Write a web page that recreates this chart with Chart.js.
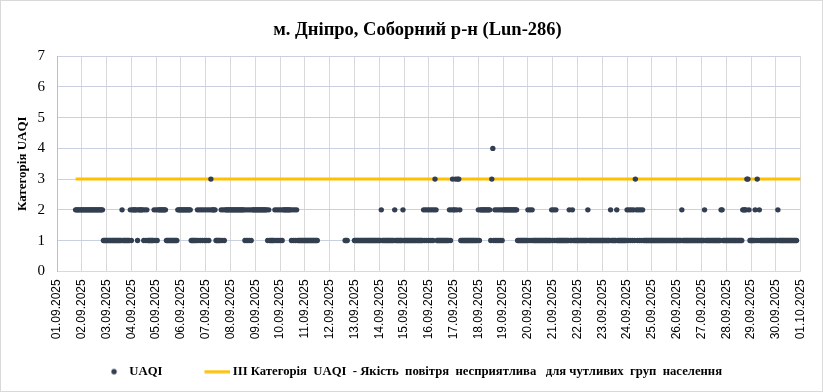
<!DOCTYPE html>
<html>
<head>
<meta charset="utf-8">
<script src="https://cdn.jsdelivr.net/npm/chart.js@4.4.1/dist/chart.umd.min.js"></script>
<style>
  html, body { margin: 0; padding: 0; background: #fff; }
  #wrap { width: 823px; height: 392px; }
</style>
</head>
<body>
<div id="wrap"><canvas id="uaqiChart" width="823" height="392"></canvas></div>
<script>
// Погодинні значення UAQI, один рядок на добу (24 символи, '.' = немає даних)
const days = ['01.09', '02.09', '03.09', '04.09', '05.09', '06.09', '07.09', '08.09', '09.09', '10.09',
              '11.09', '12.09', '13.09', '14.09', '15.09', '16.09', '17.09', '18.09', '19.09', '20.09',
              '21.09', '22.09', '23.09', '24.09', '25.09', '26.09', '27.09', '28.09', '29.09', '30.09'];
const hourlyUAQI = [
  '..................222222',
  '222222222222222222222111',
  '111111111111111211111112',
  '122222122222121211111121',
  '212222222211111111111222',
  '222222222211111121212121',
  '212123222211111212122222',
  '222222222222221212121222',
  '222222222222121111121212',
  '121222222221212121111111',
  '1111111111111...........',
  '...............111......',
  '111111111111111111111111',
  '112111111111111211111112',
  '111111111111111111121212',
  '121212321111111111112123',
  '223233211111111111111111',
  '212222222222134121212121',
  '222222222222221111111111',
  '212121111111111111111112',
  '121211111111111121121111',
  '111111111121111111111111',
  '111111112111112111111111',
  '212121213212121211111111',
  '111111111111111111111111',
  '111112111111111111111111',
  '111211111111111111122111',
  '111111111111111122223321',
  '111121312111111111111111',
  '112111111111111111111..'
];
const tickLabels = ['01.09.2025', '02.09.2025', '03.09.2025', '04.09.2025', '05.09.2025', '06.09.2025',
                    '07.09.2025', '08.09.2025', '09.09.2025', '10.09.2025', '11.09.2025', '12.09.2025',
                    '13.09.2025', '14.09.2025', '15.09.2025', '16.09.2025', '17.09.2025', '18.09.2025',
                    '19.09.2025', '20.09.2025', '21.09.2025', '22.09.2025', '23.09.2025', '24.09.2025',
                    '25.09.2025', '26.09.2025', '27.09.2025', '28.09.2025', '29.09.2025', '30.09.2025',
                    '01.10.2025'];
const yTickLabels = ['0', '1', '2', '3', '4', '5', '6', '7'];
const thresholdValue = 3;
const thresholdLabel = 'ІІІ Категорія  UAQI  - Якість  повітря  несприятлива   для чутливих  груп  населення';

// точки: x = номер доби + година/24
const points = [];
hourlyUAQI.forEach((dayStr, d) => {
    for (let h = 0; h < dayStr.length; h++) {
        const c = dayStr[h];
        if (c !== '.') points.push({ x: d + h / 24, y: Number(c) });
    }
});
const thresholdLine = [
    { x: points[0].x, y: thresholdValue },
    { x: tickLabels.length - 1, y: thresholdValue }
];

// маркери легенди (малюються по центру комірки шириною 56)
function makeDot() {
    const c = document.createElement('canvas');
    c.width = 64; c.height = 8;
    const g = c.getContext('2d');
    g.fillStyle = '#333f50';
    g.beginPath(); g.arc(51, 4, 2.7, 0, Math.PI * 2); g.fill();
    return c;
}
function makeLine() {
    const c = document.createElement('canvas');
    c.width = 64; c.height = 4;
    const g = c.getContext('2d');
    g.fillStyle = '#ffc000';
    g.fillRect(38, 0.5, 26, 3);
    return c;
}
const dotMarker = makeDot();
const lineMarker = makeLine();

const frame = {
    id: 'frame',
    afterLayout(chart) {
        // легенда трохи ліворуч, заголовок трохи праворуч, як в оригіналі
        if (chart.legend) {
            chart.legend.left -= 11;
            chart.legend.right -= 11;
        }
        if (chart.titleBlock) {
            chart.titleBlock.left += 12;
            chart.titleBlock.right += 12;
        }
    },
    beforeDraw(chart) {
        const c = chart.ctx;
        c.save();
        c.fillStyle = '#fff';
        c.fillRect(0, 0, chart.width, chart.height);
        c.restore();
    },
    afterDraw(chart) {
        const c = chart.ctx;
        c.save();
        c.strokeStyle = '#d9d9d9';
        c.lineWidth = 1;
        c.strokeRect(0.5, 0.5, chart.width - 1, chart.height - 1);
        c.restore();
    }
};

const ctx = document.getElementById('uaqiChart').getContext('2d');
new Chart(ctx, {
    type: 'scatter',
    data: {
        datasets: [{
            label: 'UAQI',
            data: points,
            backgroundColor: '#333f50',
            borderWidth: 0,
            pointRadius: 2.7,
            pointHoverRadius: 2.7,
            order: 1
        }, {
            label: thresholdLabel,
            data: thresholdLine,
            showLine: true,
            borderColor: '#ffc000',
            borderWidth: 3,
            pointRadius: 0,
            order: 2
        }]
    },
    options: {
        responsive: false,
        animation: false,
        layout: { padding: { left: 4, right: 16, top: 0, bottom: 4 } },
        plugins: {
            title: {
                display: true,
                text: 'м. Дніпро, Соборний р-н (Lun-286)',
                color: '#000',
                font: { family: 'Liberation Serif', size: 18.5, weight: 'bold' },
                padding: { top: 19, bottom: 15 }
            },
            legend: {
                position: 'bottom',
                labels: {
                    usePointStyle: true,
                    pointStyleWidth: 56,
                    padding: 8,
                    color: '#000',
                    font: { family: 'Liberation Serif', size: 12.7, weight: 'bold' },
                    generateLabels: () => [
                        { text: 'UAQI', pointStyle: dotMarker, datasetIndex: 0, lineWidth: 0, hidden: false },
                        { text: thresholdLabel, pointStyle: lineMarker, datasetIndex: 1, lineWidth: 0, hidden: false }
                    ]
                }
            },
            tooltip: { enabled: false }
        },
        scales: {
            x: {
                type: 'linear',
                min: 0,
                max: tickLabels.length - 1,
                afterFit: (s) => { s.height = 86; },
                grid: { color: '#d9d9d9', drawTicks: false },
                border: { color: '#d9d9d9' },
                ticks: {
                    stepSize: 1,
                    autoSkip: false,
                    minRotation: 90,
                    maxRotation: 90,
                    padding: 8,
                    color: '#000',
                    font: { family: 'Liberation Sans', size: 12 },
                    callback: (v) => tickLabels[v]
                }
            },
            y: {
                min: 0,
                max: yTickLabels.length - 1,
                afterFit: (s) => { s.width = 53; },
                grid: { color: '#c9d0e2', drawTicks: false },
                border: { color: '#bfbfbf' },
                ticks: {
                    stepSize: 1,
                    padding: 12,
                    color: '#000',
                    font: { family: 'Liberation Serif', size: 15 },
                    callback: (v) => yTickLabels[v]
                },
                title: {
                    display: true,
                    text: 'Категорія UAQI',
                    color: '#000',
                    font: { family: 'Liberation Serif', size: 13, weight: 'bold' },
                    padding: { top: 11, bottom: 0 }
                }
            }
        }
    },
    plugins: [frame]
});
</script>
</body>
</html>
